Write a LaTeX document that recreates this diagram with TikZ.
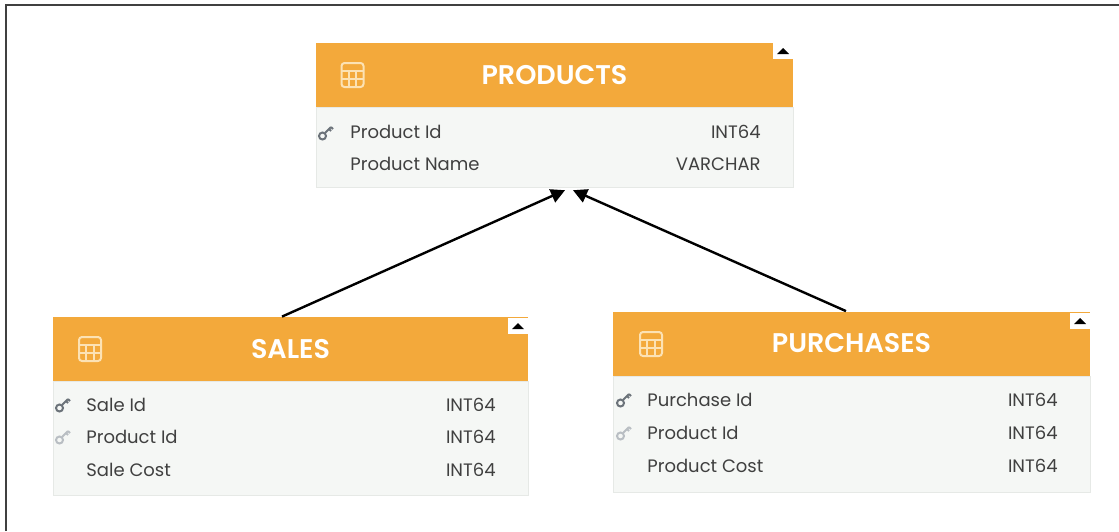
\documentclass[tikz,border=0pt]{standalone}
\usepackage{fontspec}
\setmainfont{Poppins}
\newfontfamily\titlefont{Poppins}[UprightFont={* SemiBold}]
\usepackage{tikz}
\usetikzlibrary{arrows.meta}
\usetikzlibrary{positioning}
\definecolor{hdrorange}{HTML}{F3A93B}
\definecolor{bodygray}{HTML}{F5F7F5}
\definecolor{bodyline}{HTML}{E6E9E6}
\definecolor{txtgray}{HTML}{404040}
\definecolor{iconlight}{HTML}{FCE2B4}
\definecolor{keydark}{HTML}{6C737A}
\definecolor{keylight}{HTML}{B9BEC3}

\begin{document}
\begin{tikzpicture}[x=0.5pt,y=-0.5pt,
	header/.style={rectangle,fill=hdrorange,text=white,inner sep=0pt,minimum height=32pt,font=\titlefont\fontsize{13.5}{15}\selectfont},
	tablebody/.style={rectangle,fill=bodygray,draw=bodyline,inner sep=0pt,below=0pt of #1},
	field/.style={anchor=west,text=txtgray,inner sep=0pt,font=\fontsize{9}{11}\selectfont},
	ftype/.style={anchor=east,text=txtgray,inner sep=0pt,font=\fontsize{9}{11}\selectfont},
	link/.style={-{Triangle[width=7pt,length=7pt]},line width=1.2pt}]

	\useasboundingbox (0,0) rectangle (1119,531);

	% Draw frame
	\draw[line width=1pt,black!75] (6,531) -- (6,5) -- (1119,5);

	% Draw tables
	\node[header,minimum width=238.5pt] (products) at (554.5,75) {PRODUCTS};
	\node[tablebody=products,minimum width=238.5pt,minimum height=40pt] (productsbody) {};
	\node[header,minimum width=237.5pt] (sales) at (290.5,349) {SALES};
	\node[tablebody=sales,minimum width=237.5pt,minimum height=57pt] (salesbody) {};
	\node[header,minimum width=238.5pt] (purchases) at (851.5,343.5) {PURCHASES};
	\node[tablebody=purchases,minimum width=238.5pt,minimum height=58pt] (purchasesbody) {};

	% Draw fields
	\node[field] (prodid) at (350,132) {Product Id};
	\node[field] (prodname) at (350,164) {Product Name};
	\node[ftype] (prodidtype) at (761,132) {INT64};
	\node[ftype] (prodnametype) at (761,164) {VARCHAR};

	\node[field] (saleid) at (86,405) {Sale Id};
	\node[field] (saleprod) at (86,437) {Product Id};
	\node[field] (salecost) at (86,470) {Sale Cost};
	\node[ftype] (saleidtype) at (496,405) {INT64};
	\node[ftype] (saleprodtype) at (496,437) {INT64};
	\node[ftype] (salecosttype) at (496,470) {INT64};

	\node[field] (purchid) at (647,400) {Purchase Id};
	\node[field] (purchprod) at (647,433) {Product Id};
	\node[field] (purchcost) at (647,466) {Product Cost};
	\node[ftype] (purchidtype) at (1058,400) {INT64};
	\node[ftype] (purchprodtype) at (1058,433) {INT64};
	\node[ftype] (purchcosttype) at (1058,466) {INT64};

	% Draw table icons
	\foreach \ix/\iy in {352.5/75, 90/349, 651/344}{
		\draw[iconlight,line width=1pt,rounded corners=1.5pt] (\ix-11,\iy-12) rectangle (\ix+11,\iy+12);
		\draw[iconlight,line width=1pt] (\ix-11,\iy-4) -- (\ix+11,\iy-4) (\ix-11,\iy+4) -- (\ix+11,\iy+4)
			(\ix-3.7,\iy-4) -- (\ix-3.7,\iy+12) (\ix+3.7,\iy-4) -- (\ix+3.7,\iy+12);
	}

	% Draw keys
	\foreach \kx/\ky/\kc in {325/133/keydark, 62/405/keydark, 62/437/keylight, 623/400/keydark, 623/433/keylight}{
		\draw[\kc,line width=1pt] (\kx-2.5,\ky+3) circle (3.5);
		\draw[\kc,line width=1pt] (\kx,\ky) -- (\kx+6,\ky-6) (\kx+4,\ky-4) -- (\kx+6,\ky-2) (\kx+6,\ky-6) -- (\kx+8,\ky-4);
	}

	% Draw collapse buttons
	\foreach \bx/\by in {783/52, 518/327, 1080/322}{
		\fill[white] (\bx-10,\by-9) rectangle (\bx+10,\by+7);
		\fill[black] (\bx-6,\by+2) -- (\bx+6,\by+2) -- (\bx,\by-4) -- cycle;
	}

	% Draw relations
	\draw[link] ([xshift=-4.25pt]sales.north) -- ([xshift=5.25pt,yshift=-1pt]productsbody.south);
	\draw[link] ([xshift=-2.75pt]purchases.north) -- ([xshift=9.25pt,yshift=-1pt]productsbody.south);

\end{tikzpicture}
\end{document}
